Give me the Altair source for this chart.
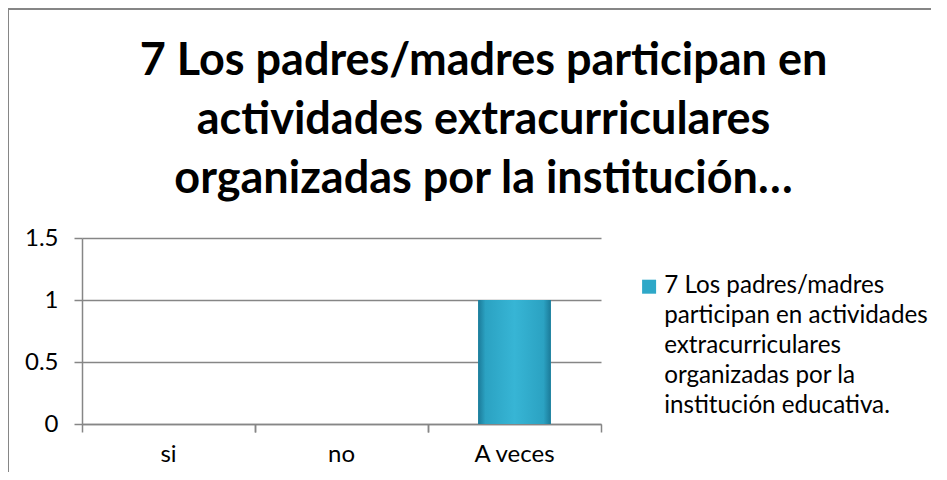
import altair as alt
import pandas as pd

categories = ["si", "no", "A veces"]
values = [0, 0, 1]
legend_lines = ["7 Los padres/madres", "participan en actividades", "extracurriculares",
                "organizadas por la", "institución educativa."]
title_lines = ["7 Los padres/madres participan en", "actividades extracurriculares",
               "organizadas por la institución…"]
y_ticks = [0, 0.5, 1, 1.5]

df = pd.DataFrame({
    "cat": categories,
    "val": values,
    "serie": ["\n".join(legend_lines)] * len(categories),
})

FONT = "Lato"
GRAY = "#868686"
W, H = 519, 186

xscale = alt.Scale(domain=categories, paddingInner=0, paddingOuter=0)
yscale = alt.Scale(domain=[0, 1.5])

grad = alt.Gradient(
    gradient="linear", x1=0, x2=1, y1=0, y2=0,
    stops=[
        alt.GradientStop(color="#1b7a98", offset=0),
        alt.GradientStop(color="#2ba2c2", offset=0.1),
        alt.GradientStop(color="#37b5d5", offset=0.5),
        alt.GradientStop(color="#2ba2c2", offset=0.9),
        alt.GradientStop(color="#1b7a98", offset=1),
    ],
)

base = alt.Chart(df)

bars_legend = base.mark_bar(width=alt.RelativeBandSize(0.42)).encode(
    x=alt.X("cat:N", sort=categories, scale=xscale, title=None,
            axis=alt.Axis(labels=True, ticks=False, domain=True, labelAngle=0,
                          labelPadding=18, orient="bottom")),
    y=alt.Y("val:Q", scale=yscale, title=None,
            axis=alt.Axis(values=y_ticks, format="~g", grid=True)),
    color=alt.Color("serie:N", scale=alt.Scale(range=["#2ea8c8"]),
                    legend=alt.Legend(title=None, orient="none", legendX=555, legendY=24,
                                      labelExpr="split(datum.label, '\\n')",
                                      labelLimit=400,
                                      symbolType="M-1,0.8H1V2.8H-1Z",
                                      symbolSize=196, symbolStrokeWidth=0,
                                      labelBaseline="top",
                                      labelOffset=3)),
)

bars_grad = base.mark_bar(width=alt.RelativeBandSize(0.42), color=grad).encode(
    x=alt.X("cat:N", sort=categories, scale=xscale, title=None,
            axis=alt.Axis(labels=False, ticks=True, domain=False, bandPosition=0,
                          tickSize=8, orient="bottom")),
    y=alt.Y("val:Q", scale=yscale, title=None),
)

bars_end = base.mark_bar(width=alt.RelativeBandSize(0.42), opacity=0).encode(
    x=alt.X("cat:N", sort=categories, scale=xscale, title=None,
            axis=alt.Axis(labels=False, ticks=True, domain=False, bandPosition=1,
                          tickSize=8, orient="bottom")),
    y=alt.Y("val:Q", scale=yscale, title=None),
)

border = alt.Chart(alt.Data(values=[{}])).mark_rect(
    fillOpacity=0, stroke=GRAY, strokeWidth=2
).encode(
    x=alt.value(-74), x2=alt.value(W + 400),
    y=alt.value(-229), y2=alt.value(H + 200),
)

chart = alt.layer(border, bars_legend, bars_grad, bars_end).resolve_axis(
    x="independent"
).properties(
    width=W, height=H,
    autosize=alt.AutoSizeParams(type="none"),
    padding={"left": 74, "top": 230, "right": 330, "bottom": 48},
    title=alt.Title(text=title_lines, font=FONT, fontSize=45, fontWeight="bold",
                    color="#000000", anchor="middle", frame="group", dx=142,
                    lineHeight=59, baseline="top", offset=20, dy=214),
).configure(
    view=alt.ViewConfig(stroke=None),
    axis=alt.AxisConfig(
        labelFont=FONT, labelFontSize=24, labelColor="#000000",
        domainColor=GRAY, tickColor=GRAY, gridColor=GRAY,
        domainWidth=1.5, tickWidth=1.5, gridWidth=1.5,
    ),
    axisY=alt.AxisConfig(tickSize=8, labelPadding=16, domain=True),
    legend=alt.LegendConfig(labelFont=FONT, labelFontSize=24.2, labelColor="#000000"),
    style={"guide-label": {"lineHeight": 30}},
)

chart.save("out.html", embed_options={"renderer": "svg", "actions": False})
